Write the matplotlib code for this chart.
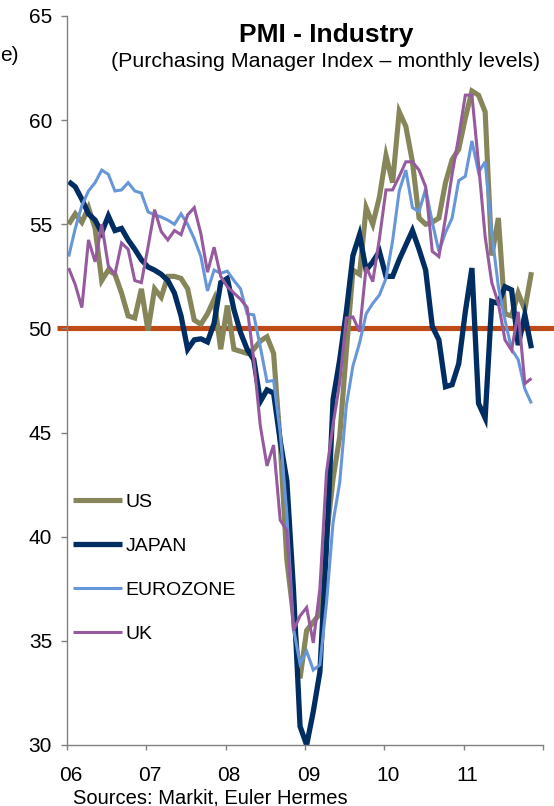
import matplotlib
matplotlib.use("Agg")
import matplotlib.pyplot as plt
from matplotlib.transforms import ScaledTranslation
import numpy as np

# Monthly manufacturing PMI, Jan 2006 - Nov 2011
us = [55.0, 55.5, 55.1, 55.8, 54.8, 52.3, 52.8, 52.6, 51.7, 50.6, 50.5, 51.9,
      49.9, 51.9, 51.5, 52.5, 52.5, 52.4, 51.9, 50.4, 50.2, 50.7, 51.4, 49.0,
      51.1, 49.0, 48.9, 48.8, 49.0, 49.4, 49.6, 48.8, 44.5, 38.9, 36.2, 33.2,
      35.5, 35.9, 36.3, 40.0, 42.8, 44.8, 48.9, 52.8, 52.6, 55.8, 55.0, 56.3,
      58.3, 57.0, 60.4, 59.7, 58.0, 55.3, 55.0, 55.1, 55.3, 57.0, 58.1, 58.6,
      60.1, 61.4, 61.2, 60.4, 53.5, 55.3, 50.7, 50.6, 51.7, 50.9, 52.7]

japan = [57.05, 56.8, 56.2, 55.5, 55.2, 54.6, 55.4, 54.7, 54.8, 54.25, 53.8, 53.3,
         52.95, 52.8, 52.6, 52.3, 51.7, 50.6, 49.0, 49.45, 49.5, 49.35, 50.25, 52.2,
         52.4, 50.9, 49.8, 49.0, 48.5, 46.5, 47.05, 46.9, 44.6, 42.7, 37.5, 30.9,
         30.0, 31.6, 33.5, 39.5, 46.6, 48.5, 50.8, 53.5, 54.5, 52.8, 53.2, 53.7,
         52.5, 52.5, 53.3, 54.0, 54.7, 53.8, 52.8, 50.1, 49.45, 47.2, 47.3, 48.3,
         50.8, 52.9, 46.4, 45.7, 51.3, 51.2, 52.0, 51.85, 49.2, 50.65, 49.05]

eurozone = [53.45, 54.8, 55.9, 56.6, 57.0, 57.6, 57.4, 56.6, 56.65, 57.0, 56.6, 56.5,
            55.6, 55.45, 55.35, 55.2, 55.0, 55.5, 55.0, 54.3, 53.45, 51.8, 52.8, 52.65,
            52.75, 52.3, 51.9, 50.7, 50.65, 49.1, 47.45, 47.5, 45.0, 41.1, 35.6, 33.9,
            34.5, 33.6, 33.85, 36.8, 40.7, 42.6, 46.3, 48.2, 49.3, 50.7, 51.2, 51.6,
            52.4, 54.2, 56.6, 57.6, 55.8, 55.6, 56.7, 55.1, 53.7, 54.6, 55.3, 57.1,
            57.3, 59.0, 57.5, 58.0, 54.6, 52.0, 50.4, 49.0, 48.5, 47.1, 46.4]

uk = [52.9, 52.1, 51.0, 54.25, 53.2, 55.0, 53.0, 52.6, 54.1, 53.8, 52.3, 52.2,
      53.9, 55.7, 54.65, 54.25, 54.7, 54.5, 55.45, 55.8, 54.55, 52.7, 53.9, 52.5,
      52.0, 51.7, 51.4, 51.0, 48.5, 45.3, 43.4, 44.4, 40.8, 40.3, 35.5, 36.2,
      36.6, 34.9, 37.5, 43.1, 45.4, 47.4, 50.5, 50.55, 49.85, 52.95, 52.25, 54.3,
      56.65, 56.65, 57.3, 58.0, 58.0, 57.6, 56.8, 53.7, 53.45, 55.3, 57.4, 59.2,
      61.2, 61.2, 57.9, 54.4, 52.2, 51.2, 49.45, 48.95, 50.8, 47.35, 47.6]

year_ticks = [2006, 2007, 2008, 2009, 2010, 2011, 2012]
year_labels = ["06", "07", "08", "09", "10", "11", ""]
series_names = ["US", "JAPAN", "EUROZONE", "UK"]

plt.rcParams["font.family"] = ["Liberation Sans", "DejaVu Sans"]

W, H = 554, 806
fig = plt.figure(figsize=(W / 100, H / 100), dpi=100)
ax = fig.add_axes([67 / W, 1 - 745 / H, 476 / W, 729 / H])

# monthly points sit a little after the start of each month
t = 2006 + (np.arange(len(us)) + 0.25) / 12

# 50 threshold line, extending slightly past the plot frame
ax.plot([-10 / 476, 1 + 11 / 476], [50, 50], transform=ax.get_yaxis_transform(),
        color="#BE4B15", lw=3.7, clip_on=False, zorder=1.5, solid_capstyle="butt")

styles = [
    (us, "#86865A", 3.7),
    (japan, "#002D62", 3.8),
    (eurozone, "#6797D8", 2.2),
    (uk, "#965A9E", 2.2),
]
handles = []
for (vals, col, lw), name in zip(styles, series_names):
    ln, = ax.plot(t, vals, color=col, lw=lw, label=name, zorder=2,
                  solid_joinstyle="miter", solid_capstyle="butt")
    handles.append(ln)

ax.set_xlim(2006, 2012)
ax.set_ylim(30, 65)
ax.set_yticks(np.arange(30, 66, 5))
ax.set_xticks(year_ticks)
ax.set_xticklabels(year_labels)

for side in ("top", "right"):
    ax.spines[side].set_visible(False)
for side in ("left", "bottom"):
    ax.spines[side].set_color("#808080")
    ax.spines[side].set_linewidth(1.0)

ax.tick_params(axis="x", direction="out", length=3.6, width=1, color="#808080",
               labelsize=15, pad=11.5)
ax.tick_params(axis="y", direction="out", length=4.3, width=1, color="#808080",
               labelsize=15, pad=6.5)

# year labels sit slightly right of their tick marks
shift = ScaledTranslation(3.5 / 100, 0, fig.dpi_scale_trans)
for lab in ax.get_xticklabels():
    lab.set_transform(lab.get_transform() + shift)

leg = ax.legend(handles=handles, loc="upper left",
                bbox_to_anchor=(73 / W, 1 - 493 / H), bbox_transform=fig.transFigure,
                frameon=False, fontsize=14, handlelength=2.5, handletextpad=0.2,
                labelspacing=1.36, borderpad=0, borderaxespad=0)

fig.text(326.5 / W, 1 - 42 / H, "PMI - Industry", ha="center", va="baseline",
         fontsize=19, fontweight="bold")
fig.text(326 / W, 1 - 67 / H, "(Purchasing Manager Index \u2013 monthly levels)",
         ha="center", va="baseline", fontsize=15.4)
fig.text(0.5 / W, 1 - 61 / H, "e)", ha="left", va="baseline", fontsize=15)
fig.text(73 / W, 1 - 803 / H, "Sources: Markit, Euler Hermes", ha="left",
         va="baseline", fontsize=14.5)

fig.savefig("out.png", dpi=100)
